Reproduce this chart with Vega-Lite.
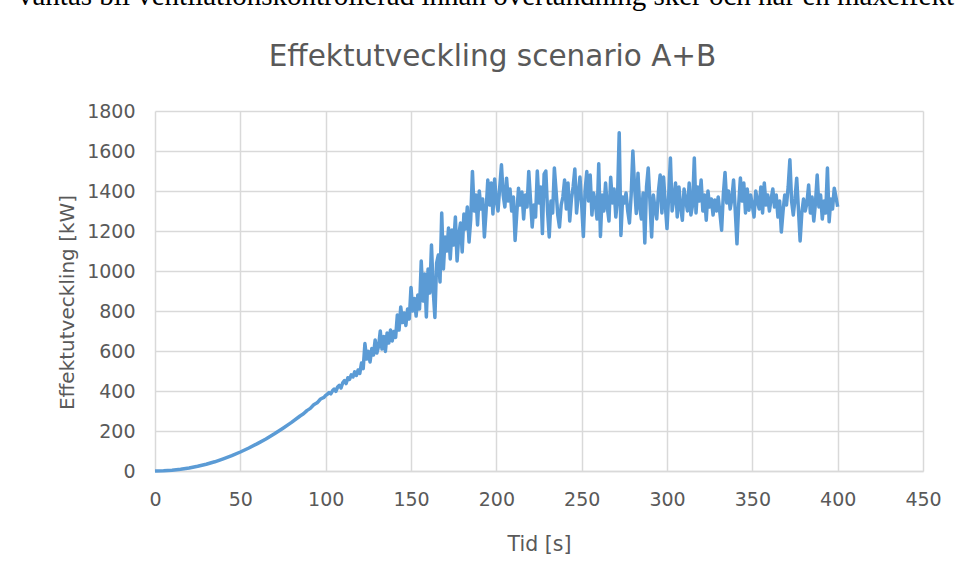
{
  "$schema": "https://vega.github.io/schema/vega-lite/v6.json",
  "autosize": "none",
  "width": 768,
  "height": 360,
  "padding": {"left": 155, "top": 111, "right": 37, "bottom": 112},
  "background": "#ffffff",
  "title": {
    "text": "väntas bli ventilationskontrollerad innan övertändning sker och när en maxeffekt",
    "anchor": "start",
    "frame": "group",
    "dx": -137,
    "dy": -30,
    "offset": 0,
    "font": "Liberation Serif",
    "fontSize": 29,
    "fontWeight": "normal",
    "color": "#000000"
  },
  "config": {
    "font": "DejaVu Sans",
    "view": {"stroke": null}
  },
  "datasets": {
    "series": [
      {"t":0,"p":0},{"t":5,"p":1},{"t":10,"p":4},{"t":15,"p":9},{"t":20,"p":15},{"t":25,"p":24},{"t":30,"p":34},{"t":35,"p":46},{"t":40,"p":61},{"t":45,"p":77},{"t":50,"p":95},{"t":55,"p":115},{"t":60,"p":137},{"t":65,"p":160},{"t":70,"p":186},{"t":75,"p":214},{"t":80,"p":243},{"t":85,"p":275},
      {"t":87,"p":286},{"t":89,"p":302},{"t":91,"p":313},{"t":93,"p":331},{"t":95,"p":341},{"t":97,"p":360},{"t":99,"p":368},{"t":100,"p":378},
      {"t":101,"p":384},{"t":102,"p":392},{"t":103,"p":386},{"t":104,"p":401},{"t":105,"p":410},{"t":106,"p":398},{"t":107,"p":420},{"t":108,"p":428},{"t":109,"p":415},{"t":110,"p":441},
      {"t":111,"p":452},{"t":112,"p":437},{"t":113,"p":466},{"t":114,"p":458},{"t":115,"p":481},{"t":116,"p":470},{"t":117,"p":496},{"t":118,"p":478},{"t":119,"p":505},{"t":120,"p":488},
      {"t":121,"p":540},{"t":122,"p":512},{"t":123,"p":637},{"t":124,"p":560},{"t":125,"p":598},{"t":126,"p":545},{"t":127,"p":612},{"t":128,"p":580},{"t":129,"p":655},{"t":130,"p":590},
      {"t":131,"p":623},{"t":132,"p":700},{"t":133,"p":610},{"t":134,"p":672},{"t":135,"p":598},{"t":136,"p":690},{"t":137,"p":640},{"t":138,"p":705},{"t":139,"p":650},{"t":140,"p":698},
      {"t":141,"p":668},{"t":142,"p":780},{"t":143,"p":705},{"t":144,"p":820},{"t":145,"p":742},{"t":146,"p":790},{"t":147,"p":728},{"t":148,"p":810},{"t":149,"p":760},{"t":150,"p":918},
      {"t":151,"p":800},{"t":152,"p":862},{"t":153,"p":775},{"t":154,"p":880},{"t":155,"p":810},{"t":156,"p":1050},{"t":157,"p":850},{"t":158,"p":985},{"t":159,"p":770},{"t":160,"p":1010},
      {"t":161,"p":890},{"t":162,"p":1130},{"t":163,"p":905},{"t":164,"p":768},{"t":165,"p":1040},{"t":166,"p":1080},{"t":167,"p":945},{"t":168,"p":1290},{"t":169,"p":1010},{"t":170,"p":1170},
      {"t":171,"p":1100},{"t":172,"p":1215},{"t":173,"p":1060},{"t":174,"p":1205},{"t":175,"p":1130},{"t":176,"p":1270},{"t":177,"p":1050},{"t":178,"p":1180},{"t":179,"p":1240},{"t":180,"p":1095},
      {"t":181,"p":1285},{"t":182,"p":1210},{"t":183,"p":1320},{"t":184,"p":1145},{"t":185,"p":1260},{"t":186,"p":1498},{"t":187,"p":1300},{"t":188,"p":1380},{"t":189,"p":1230},{"t":190,"p":1400},
      {"t":191,"p":1310},{"t":192,"p":1360},{"t":193,"p":1170},{"t":194,"p":1300},{"t":195,"p":1455},{"t":196,"p":1330},{"t":197,"p":1440},{"t":198,"p":1285},{"t":199,"p":1460},{"t":200,"p":1350},
      {"t":201,"p":1300},{"t":202,"p":1420},{"t":203,"p":1531},{"t":204,"p":1380},{"t":205,"p":1320},{"t":206,"p":1464},{"t":207,"p":1350},{"t":208,"p":1410},{"t":209,"p":1300},{"t":210,"p":1370},
      {"t":211,"p":1153},{"t":212,"p":1290},{"t":213,"p":1414},{"t":214,"p":1330},{"t":215,"p":1395},{"t":216,"p":1260},{"t":217,"p":1380},{"t":218,"p":1320},{"t":219,"p":1498},{"t":220,"p":1360},
      {"t":221,"p":1220},{"t":222,"p":1330},{"t":223,"p":1270},{"t":224,"p":1500},{"t":225,"p":1340},{"t":226,"p":1420},{"t":227,"p":1187},{"t":228,"p":1485},{"t":229,"p":1500},{"t":230,"p":1300},
      {"t":231,"p":1170},{"t":232,"p":1350},{"t":233,"p":1290},{"t":234,"p":1515},{"t":235,"p":1400},{"t":236,"p":1280},{"t":237,"p":1220},{"t":238,"p":1330},{"t":239,"p":1370},{"t":240,"p":1455},
      {"t":241,"p":1310},{"t":242,"p":1440},{"t":243,"p":1250},{"t":244,"p":1360},{"t":245,"p":1420},{"t":246,"p":1510},{"t":247,"p":1290},{"t":248,"p":1380},{"t":249,"p":1470},{"t":250,"p":1330},
      {"t":251,"p":1173},{"t":252,"p":1400},{"t":253,"p":1497},{"t":254,"p":1350},{"t":255,"p":1480},{"t":256,"p":1280},{"t":257,"p":1390},{"t":258,"p":1340},{"t":259,"p":1260},{"t":260,"p":1536},
      {"t":261,"p":1173},{"t":262,"p":1380},{"t":263,"p":1300},{"t":264,"p":1440},{"t":265,"p":1320},{"t":266,"p":1250},{"t":267,"p":1469},{"t":268,"p":1340},{"t":269,"p":1410},{"t":270,"p":1270},
      {"t":271,"p":1360},{"t":272,"p":1691},{"t":273,"p":1178},{"t":274,"p":1370},{"t":275,"p":1340},{"t":276,"p":1390},{"t":277,"p":1300},{"t":278,"p":1240},{"t":279,"p":1380},{"t":280,"p":1600},
      {"t":281,"p":1420},{"t":282,"p":1288},{"t":283,"p":1489},{"t":284,"p":1320},{"t":285,"p":1260},{"t":286,"p":1390},{"t":287,"p":1140},{"t":288,"p":1420},{"t":289,"p":1515},{"t":290,"p":1350},
      {"t":291,"p":1170},{"t":292,"p":1380},{"t":293,"p":1310},{"t":294,"p":1260},{"t":295,"p":1400},{"t":296,"p":1480},{"t":297,"p":1290},{"t":298,"p":1470},{"t":299,"p":1330},{"t":300,"p":1212},
      {"t":301,"p":1380},{"t":302,"p":1565},{"t":303,"p":1300},{"t":304,"p":1360},{"t":305,"p":1440},{"t":306,"p":1270},{"t":307,"p":1420},{"t":308,"p":1320},{"t":309,"p":1254},{"t":310,"p":1410},
      {"t":311,"p":1350},{"t":312,"p":1300},{"t":313,"p":1440},{"t":314,"p":1280},{"t":315,"p":1330},{"t":316,"p":1565},{"t":317,"p":1290},{"t":318,"p":1420},{"t":319,"p":1350},{"t":320,"p":1455},
      {"t":321,"p":1300},{"t":322,"p":1380},{"t":323,"p":1254},{"t":324,"p":1400},{"t":325,"p":1320},{"t":326,"p":1360},{"t":327,"p":1280},{"t":328,"p":1355},{"t":329,"p":1300},{"t":330,"p":1370},
      {"t":331,"p":1290},{"t":332,"p":1204},{"t":333,"p":1380},{"t":334,"p":1493},{"t":335,"p":1340},{"t":336,"p":1400},{"t":337,"p":1310},{"t":338,"p":1360},{"t":339,"p":1455},{"t":340,"p":1300},
      {"t":341,"p":1136},{"t":342,"p":1330},{"t":343,"p":1465},{"t":344,"p":1350},{"t":345,"p":1440},{"t":346,"p":1290},{"t":347,"p":1410},{"t":348,"p":1304},{"t":349,"p":1380},{"t":350,"p":1330},
      {"t":351,"p":1270},{"t":352,"p":1400},{"t":353,"p":1350},{"t":354,"p":1310},{"t":355,"p":1420},{"t":356,"p":1290},{"t":357,"p":1440},{"t":358,"p":1330},{"t":359,"p":1380},{"t":360,"p":1300},
      {"t":361,"p":1360},{"t":362,"p":1410},{"t":363,"p":1320},{"t":364,"p":1380},{"t":365,"p":1270},{"t":366,"p":1350},{"t":367,"p":1195},{"t":368,"p":1300},{"t":369,"p":1380},{"t":370,"p":1330},
      {"t":371,"p":1420},{"t":372,"p":1556},{"t":373,"p":1350},{"t":374,"p":1280},{"t":375,"p":1360},{"t":376,"p":1464},{"t":377,"p":1310},{"t":378,"p":1150},{"t":379,"p":1290},{"t":380,"p":1360},
      {"t":381,"p":1300},{"t":382,"p":1340},{"t":383,"p":1430},{"t":384,"p":1290},{"t":385,"p":1370},{"t":386,"p":1250},{"t":387,"p":1340},{"t":388,"p":1480},{"t":389,"p":1320},{"t":390,"p":1380},
      {"t":391,"p":1260},{"t":392,"p":1350},{"t":393,"p":1290},{"t":394,"p":1515},{"t":395,"p":1246},{"t":396,"p":1360},{"t":397,"p":1310},{"t":398,"p":1414},{"t":399,"p":1370},{"t":400,"p":1321}
    ],
    "empty": []
  },
  "layer": [
    {
      "data": {"name": "series"},
      "mark": {"type": "line", "color": "#5B9BD5", "strokeWidth": 3.5, "strokeJoin": "round"},
      "encoding": {
        "x": {
          "field": "t", "type": "quantitative",
          "scale": {"domain": [0, 450], "nice": false, "zero": true},
          "axis": {
            "orient": "bottom",
            "values": [0, 50, 100, 150, 200, 250, 300, 350, 400, 450],
            "format": "d",
            "grid": true, "gridColor": "#D9D9D9", "gridWidth": 1.5,
            "domain": true, "domainColor": "#D9D9D9", "domainWidth": 1.5,
            "ticks": false,
            "labelFont": "DejaVu Sans", "labelFontSize": 19, "labelColor": "#595959", "labelPadding": 19,
            "labelFlush": false, "labelOverlap": false,
            "title": "Tid [s]",
            "titleFont": "DejaVu Sans", "titleFontSize": 20.5, "titleFontWeight": "normal", "titleColor": "#595959",
            "titleX": 384, "titleY": 79, "titleBaseline": "alphabetic", "titleAlign": "center"
          }
        },
        "y": {
          "field": "p", "type": "quantitative",
          "scale": {"domain": [0, 1800], "nice": false},
          "axis": {
            "values": [0, 200, 400, 600, 800, 1000, 1200, 1400, 1600, 1800],
            "format": "d",
            "grid": true, "gridColor": "#D9D9D9", "gridWidth": 1.5,
            "domain": false, "ticks": false,
            "labelFont": "DejaVu Sans", "labelFontSize": 19, "labelColor": "#595959", "labelPadding": 20,
            "labelFlush": false, "labelOverlap": false,
            "title": "Effektutveckling [kW]",
            "titleFont": "DejaVu Sans", "titleFontSize": 20, "titleFontWeight": "normal", "titleColor": "#595959",
            "titleX": -82, "titleY": 191, "titleAngle": -90, "titleBaseline": "alphabetic", "titleAlign": "center"
          }
        }
      }
    },
    {
      "data": {"name": "empty"},
      "mark": {"type": "rule", "strokeOpacity": 0},
      "encoding": {
        "x": {
          "field": "t", "type": "quantitative",
          "axis": {
            "orient": "top",
            "labels": false, "ticks": false, "domain": false, "grid": false,
            "title": "Effektutveckling scenario A+B",
            "titleFont": "DejaVu Sans", "titleFontSize": 29.5, "titleFontWeight": "normal", "titleColor": "#595959",
            "titleX": 337, "titleY": -46, "titleBaseline": "alphabetic", "titleAlign": "center"
          }
        }
      }
    }
  ],
  "resolve": {"axis": {"x": "independent"}}
}
